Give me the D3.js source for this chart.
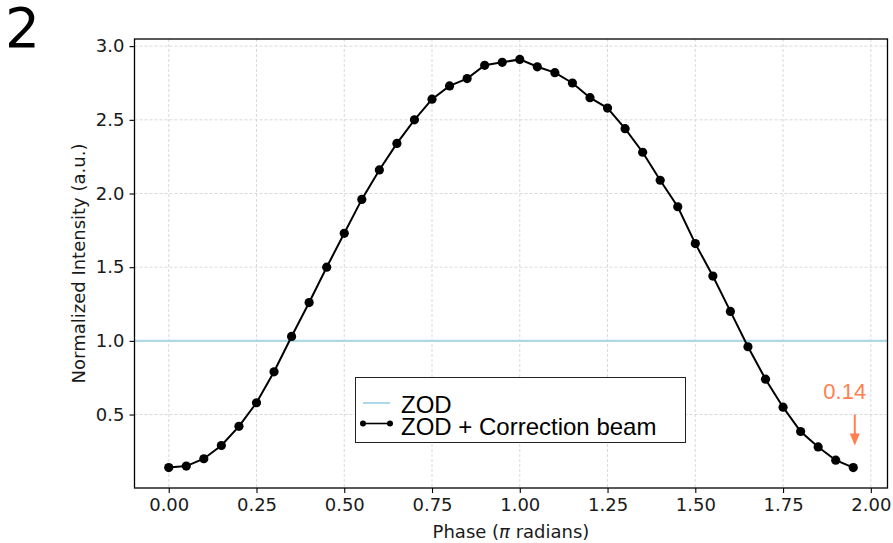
<!DOCTYPE html>
<html>
<head>
<meta charset="utf-8">
<script src="https://cdn.jsdelivr.net/npm/d3@7"></script>
<style>
  body { margin: 0; background: #fff; }
  svg { display: block; }
</style>
</head>
<body>
<svg id="chart" width="893" height="543"></svg>
<script>
// dati
var phase = [0.00, 0.05, 0.10, 0.15, 0.20, 0.25, 0.30, 0.35, 0.40, 0.45,
             0.50, 0.55, 0.60, 0.65, 0.70, 0.75, 0.80, 0.85, 0.90, 0.95,
             1.00, 1.05, 1.10, 1.15, 1.20, 1.25, 1.30, 1.35, 1.40, 1.45,
             1.50, 1.55, 1.60, 1.65, 1.70, 1.75, 1.80, 1.85, 1.90, 1.95]
var intensity = [0.14, 0.15, 0.20, 0.29, 0.42, 0.58, 0.79, 1.03, 1.26, 1.50,
                 1.73, 1.96, 2.16, 2.34, 2.50, 2.64, 2.73, 2.78, 2.87, 2.89,
                 2.91, 2.86, 2.82, 2.75, 2.65, 2.58, 2.44, 2.28, 2.09, 1.91,
                 1.66, 1.44, 1.20, 0.96, 0.74, 0.55, 0.385, 0.28, 0.19, 0.14]
var zodLevel = 1.0
var xTicks = [0, 0.25, 0.5, 0.75, 1, 1.25, 1.5, 1.75, 2]
var yTicks = [0.5, 1.0, 1.5, 2.0, 2.5, 3.0]
var seriesNames = ["ZOD", "ZOD + Correction beam"]
var annotText = "0.14"

const svg = d3.select('#chart')
const pLeft = 134.5, pRight = 887.5, pTop = 39, pBottom = 488
const tickFont = "'DejaVu Sans', sans-serif"
const legendFont = "'Liberation Sans', Arial, sans-serif"
const orange = "#ff7f50"
const zodColor = "#add8e6"

const data = phase.map((p, i) => ({ phase: p, value: intensity[i] }))

// margini 5% come matplotlib
var xr = d3.extent(phase), yr = d3.extent(intensity)
var xm = (xr[1] - xr[0]) * 0.05, ym = (yr[1] - yr[0]) * 0.05
var x = d3.scaleLinear().domain([xr[0] - xm, xr[1] + xm]).range([pLeft, pRight])
var y = d3.scaleLinear().domain([yr[0] - ym, yr[1] + ym]).range([pBottom, pTop])

// griglia
svg.append("g").selectAll("line")
  .data(xTicks).enter().append("line")
  .attr("x1", d => x(d)).attr("x2", d => x(d))
  .attr("y1", pTop).attr("y2", pBottom)
  .attr("stroke", "#cfcfcf").attr("stroke-width", 0.8)
  .attr("stroke-dasharray", "3,2")
svg.append("g").selectAll("line")
  .data(yTicks).enter().append("line")
  .attr("x1", pLeft).attr("x2", pRight)
  .attr("y1", d => y(d)).attr("y2", d => y(d))
  .attr("stroke", "#cfcfcf").attr("stroke-width", 0.8)
  .attr("stroke-dasharray", "3,2")

// linea ZOD
svg.append("line")
  .attr("x1", pLeft).attr("x2", pRight)
  .attr("y1", y(zodLevel)).attr("y2", y(zodLevel))
  .attr("stroke", zodColor).attr("stroke-width", 2.2)

// curva + marker
var line = d3.line().x(d => x(d.phase)).y(d => y(d.value))
svg.append("path")
  .datum(data)
  .attr("d", line)
  .attr("fill", "none")
  .attr("stroke", "#000")
  .attr("stroke-width", 2)
svg.selectAll("circle.pt")
  .data(data).enter()
  .append("circle")
  .attr("class", "pt")
  .attr("cx", d => x(d.phase))
  .attr("cy", d => y(d.value))
  .attr("r", 4.6)
  .attr("fill", "#000")

// assi
var xAxis = d3.axisBottom(x).tickValues(xTicks).tickFormat(d3.format(".2f")).tickSizeOuter(0).tickSize(5).tickPadding(5)
var yAxis = d3.axisLeft(y).tickValues(yTicks).tickFormat(d3.format(".1f")).tickSizeOuter(0).tickSize(5).tickPadding(5)
var gx = svg.append("g").attr("transform", `translate(0,${pBottom})`).call(xAxis)
var gy = svg.append("g").attr("transform", `translate(${pLeft},0)`).call(yAxis)
;[gx, gy].forEach(g => {
  g.select(".domain").remove()
  g.selectAll(".tick line").attr("stroke", "#000").attr("stroke-width", 1.1)
  g.selectAll(".tick text").attr("fill", "#1a1a1a").style("font-family", tickFont).style("font-size", "18px")
})

// cornice
svg.append("rect")
  .attr("x", pLeft).attr("y", pTop)
  .attr("width", pRight - pLeft).attr("height", pBottom - pTop)
  .attr("fill", "none").attr("stroke", "#000").attr("stroke-width", 1.3)

// titoli assi
svg.append("text")
  .attr("x", (pLeft + pRight) / 2).attr("y", 538)
  .attr("text-anchor", "middle")
  .style("font-family", tickFont).style("font-size", "18px").attr("fill", "#1a1a1a")
  .html("Phase (<tspan font-style='italic'>π</tspan> radians)")
svg.append("text")
  .attr("transform", `translate(85,${(pTop + pBottom) / 2}) rotate(-90)`)
  .attr("text-anchor", "middle")
  .style("font-family", tickFont).style("font-size", "18px").attr("fill", "#1a1a1a")
  .text("Normalized Intensity (a.u.)")

// etichetta pannello
svg.append("text")
  .attr("x", 5).attr("y", 47)
  .style("font-family", tickFont).style("font-size", "55px")
  .text("2")

// legenda
var lg = svg.append("g")
lg.append("rect")
  .attr("x", 355.5).attr("y", 377.5).attr("width", 330).attr("height", 65)
  .attr("fill", "#fff").attr("stroke", "#222").attr("stroke-width", 1)
lg.append("line")
  .attr("x1", 363).attr("x2", 390).attr("y1", 403).attr("y2", 403)
  .attr("stroke", zodColor).attr("stroke-width", 2)
lg.append("line")
  .attr("x1", 363).attr("x2", 390).attr("y1", 423.5).attr("y2", 423.5)
  .attr("stroke", "#000").attr("stroke-width", 1.6)
lg.selectAll("circle").data([363, 390]).enter().append("circle")
  .attr("cx", d => d).attr("cy", 423.5).attr("r", 3).attr("fill", "#000")
lg.selectAll("text").data(seriesNames).enter().append("text")
  .attr("x", 401).attr("y", (d, i) => 413 + i * 22)
  .style("font-family", legendFont).style("font-size", "24px")
  .text(d => d)

// annotazione ultimo punto
var last = data[data.length - 1]
var ax = x(last.phase) + 1.5, ay = y(last.value)
svg.append("text")
  .attr("x", ax - 10).attr("y", ay - 69)
  .attr("text-anchor", "middle")
  .style("font-family", legendFont).style("font-size", "22px")
  .attr("fill", orange)
  .text(annotText)
svg.append("line")
  .attr("x1", ax).attr("x2", ax)
  .attr("y1", ay - 53).attr("y2", ay - 32)
  .attr("stroke", orange).attr("stroke-width", 2)
svg.append("path")
  .attr("d", `M ${ax - 5},${ay - 34} L ${ax + 5},${ay - 34} L ${ax},${ay - 22} Z`)
  .attr("fill", orange)
</script>
</body>
</html>
